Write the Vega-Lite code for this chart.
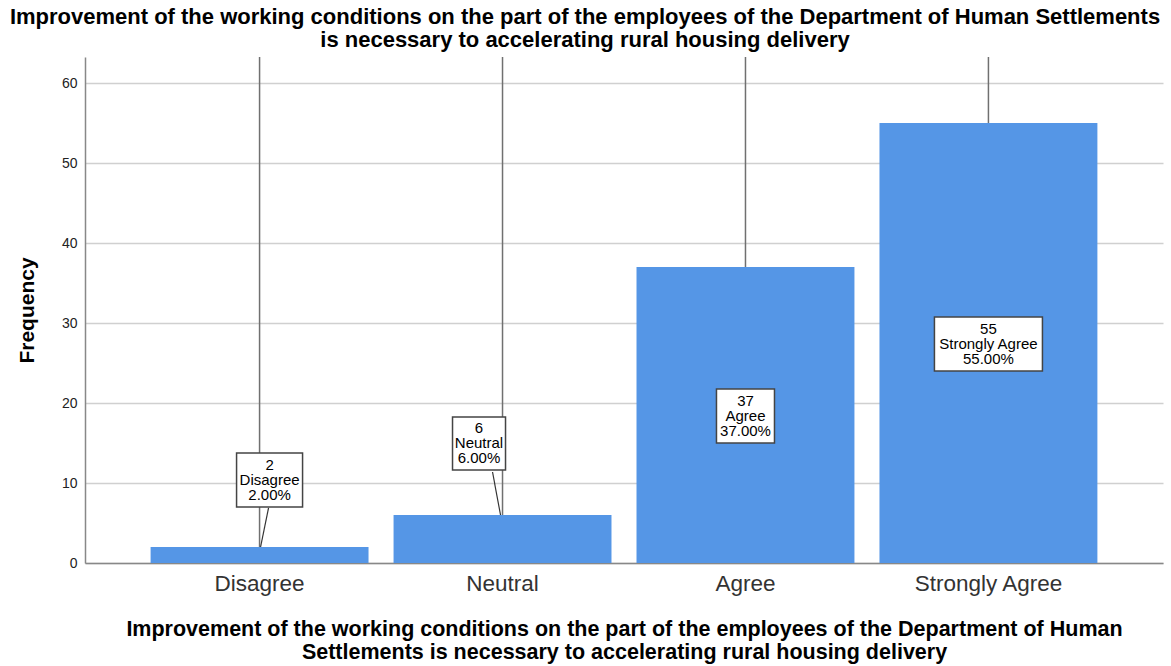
{
  "$schema": "https://vega.github.io/schema/vega-lite/v6.json",
  "width": 1078,
  "height": 506,
  "autosize": "none",
  "padding": {"left": 85, "top": 57, "right": 8, "bottom": 103},
  "background": "white",
  "title": {
    "text": ["Improvement of the working conditions on the part of the employees of the Department of Human Settlements", "is necessary to accelerating rural housing delivery"],
    "font": "Liberation Sans",
    "fontSize": 22,
    "fontWeight": "bold",
    "color": "#000000",
    "anchor": "middle",
    "frame": "group",
    "dx": -39,
    "offset": 4,
    "lineHeight": 23
  },
  "data": {
    "values": [
      {"category": "Disagree", "count": 2, "label": "2\nDisagree\n2.00%"},
      {"category": "Neutral", "count": 6, "label": "6\nNeutral\n6.00%"},
      {"category": "Agree", "count": 37, "label": "37\nAgree\n37.00%"},
      {"category": "Strongly Agree", "count": 55, "label": "55\nStrongly Agree\n55.00%"}
    ]
  },
  "encoding": {
    "x": {
      "field": "category",
      "type": "nominal",
      "sort": ["Disagree", "Neutral", "Agree", "Strongly Agree"],
      "scale": {"paddingInner": 0.103, "paddingOuter": 0.27},
      "axis": {
        "title": ["Improvement of the working conditions on the part of the employees of the Department of Human", "Settlements is necessary to accelerating rural housing delivery"],
        "titleFont": "Liberation Sans",
        "titleFontSize": 21.5,
        "titleFontWeight": "bold",
        "titleColor": "#000000",
        "titleLineHeight": 23,
        "titlePadding": 24,
        "labelAngle": 0,
        "labelFont": "Liberation Sans",
        "labelFontSize": 22.5,
        "labelColor": "#333333",
        "labelPadding": 9,
        "ticks": false,
        "domainColor": "#888888",
        "domainWidth": 1.5,
        "grid": false
      }
    }
  },
  "layer": [
    {
      "mark": {"type": "bar", "color": "#5596e6"},
      "encoding": {
        "y": {
          "field": "count",
          "type": "quantitative",
          "scale": {"domain": [0, 63.25], "nice": false},
          "axis": {
            "values": [0, 10, 20, 30, 40, 50, 60],
            "title": "Frequency",
            "titleFont": "Liberation Sans",
            "titleFontSize": 21,
            "titleFontWeight": "bold",
            "titleColor": "#000000",
            "titlePadding": 24,
            "labelFont": "Liberation Sans",
            "labelFontSize": 14,
            "labelColor": "#222222",
            "labelPadding": 8,
            "ticks": false,
            "domainColor": "#888888",
            "domainWidth": 1.5,
            "grid": true,
            "gridColor": "#d0d0d0",
            "gridWidth": 1.5
          }
        }
      }
    },
    {
      "mark": {"type": "rule", "color": "#707070", "strokeWidth": 1.5},
      "encoding": {
        "y": {"field": "count", "type": "quantitative"},
        "y2": {"datum": 63.25}
      }
    },
    {
      "transform": [{"filter": "datum.category === 'Disagree'"}],
      "layer": [
        {
          "mark": {"type": "rule", "color": "#333333", "strokeWidth": 1.2, "xOffset": 1, "x2Offset": 9},
          "encoding": {
            "x2": {"field": "category"},
            "y": {"field": "count", "type": "quantitative"},
            "y2": {"datum": 6.9}
          }
        },
        {
          "mark": {"type": "point", "shape": "M-1,-0.818H1V0.818H-1Z", "size": 4356, "filled": true, "fill": "white", "stroke": "#444444", "strokeWidth": 1.5, "opacity": 1, "xOffset": 10},
          "encoding": {"y": {"datum": 10.375, "type": "quantitative"}}
        },
        {
          "mark": {"type": "text", "font": "Liberation Sans", "fontSize": 15, "lineHeight": 15, "lineBreak": "\n", "color": "#000000", "baseline": "middle", "dy": -15, "xOffset": 10},
          "encoding": {"y": {"datum": 10.375, "type": "quantitative"}, "text": {"field": "label"}}
        }
      ]
    },
    {
      "transform": [{"filter": "datum.category === 'Neutral'"}],
      "layer": [
        {
          "mark": {"type": "rule", "color": "#333333", "strokeWidth": 1.2, "xOffset": -2, "x2Offset": -10},
          "encoding": {
            "x2": {"field": "category"},
            "y": {"field": "count", "type": "quantitative"},
            "y2": {"datum": 11.375}
          }
        },
        {
          "mark": {"type": "point", "shape": "M-1,-1H1V1H-1Z", "size": 2809, "filled": true, "fill": "white", "stroke": "#444444", "strokeWidth": 1.5, "opacity": 1, "xOffset": -23.5},
          "encoding": {"y": {"datum": 14.94, "type": "quantitative"}}
        },
        {
          "mark": {"type": "text", "font": "Liberation Sans", "fontSize": 15, "lineHeight": 15, "lineBreak": "\n", "color": "#000000", "baseline": "middle", "dy": -15, "xOffset": -23.5},
          "encoding": {"y": {"datum": 14.94, "type": "quantitative"}, "text": {"field": "label"}}
        }
      ]
    },
    {
      "transform": [{"filter": "datum.category === 'Agree'"}],
      "layer": [
        {
          "mark": {"type": "point", "shape": "M-1,-0.931H1V0.931H-1Z", "size": 3364, "filled": true, "fill": "white", "stroke": "#444444", "strokeWidth": 1.5, "opacity": 1},
          "encoding": {"y": {"datum": 18.375, "type": "quantitative"}}
        },
        {
          "mark": {"type": "text", "font": "Liberation Sans", "fontSize": 15, "lineHeight": 15, "lineBreak": "\n", "color": "#000000", "baseline": "middle", "dy": -15},
          "encoding": {"y": {"datum": 18.375, "type": "quantitative"}, "text": {"field": "label"}}
        }
      ]
    },
    {
      "transform": [{"filter": "datum.category === 'Strongly Agree'"}],
      "layer": [
        {
          "mark": {"type": "point", "shape": "M-1,-0.5H1V0.5H-1Z", "size": 11664, "filled": true, "fill": "white", "stroke": "#444444", "strokeWidth": 1.5, "opacity": 1},
          "encoding": {"y": {"datum": 27.375, "type": "quantitative"}}
        },
        {
          "mark": {"type": "text", "font": "Liberation Sans", "fontSize": 15, "lineHeight": 15, "lineBreak": "\n", "color": "#000000", "baseline": "middle", "dy": -15},
          "encoding": {"y": {"datum": 27.375, "type": "quantitative"}, "text": {"field": "label"}}
        }
      ]
    }
  ],
  "config": {
    "view": {"stroke": null},
    "font": "Liberation Sans"
  }
}
